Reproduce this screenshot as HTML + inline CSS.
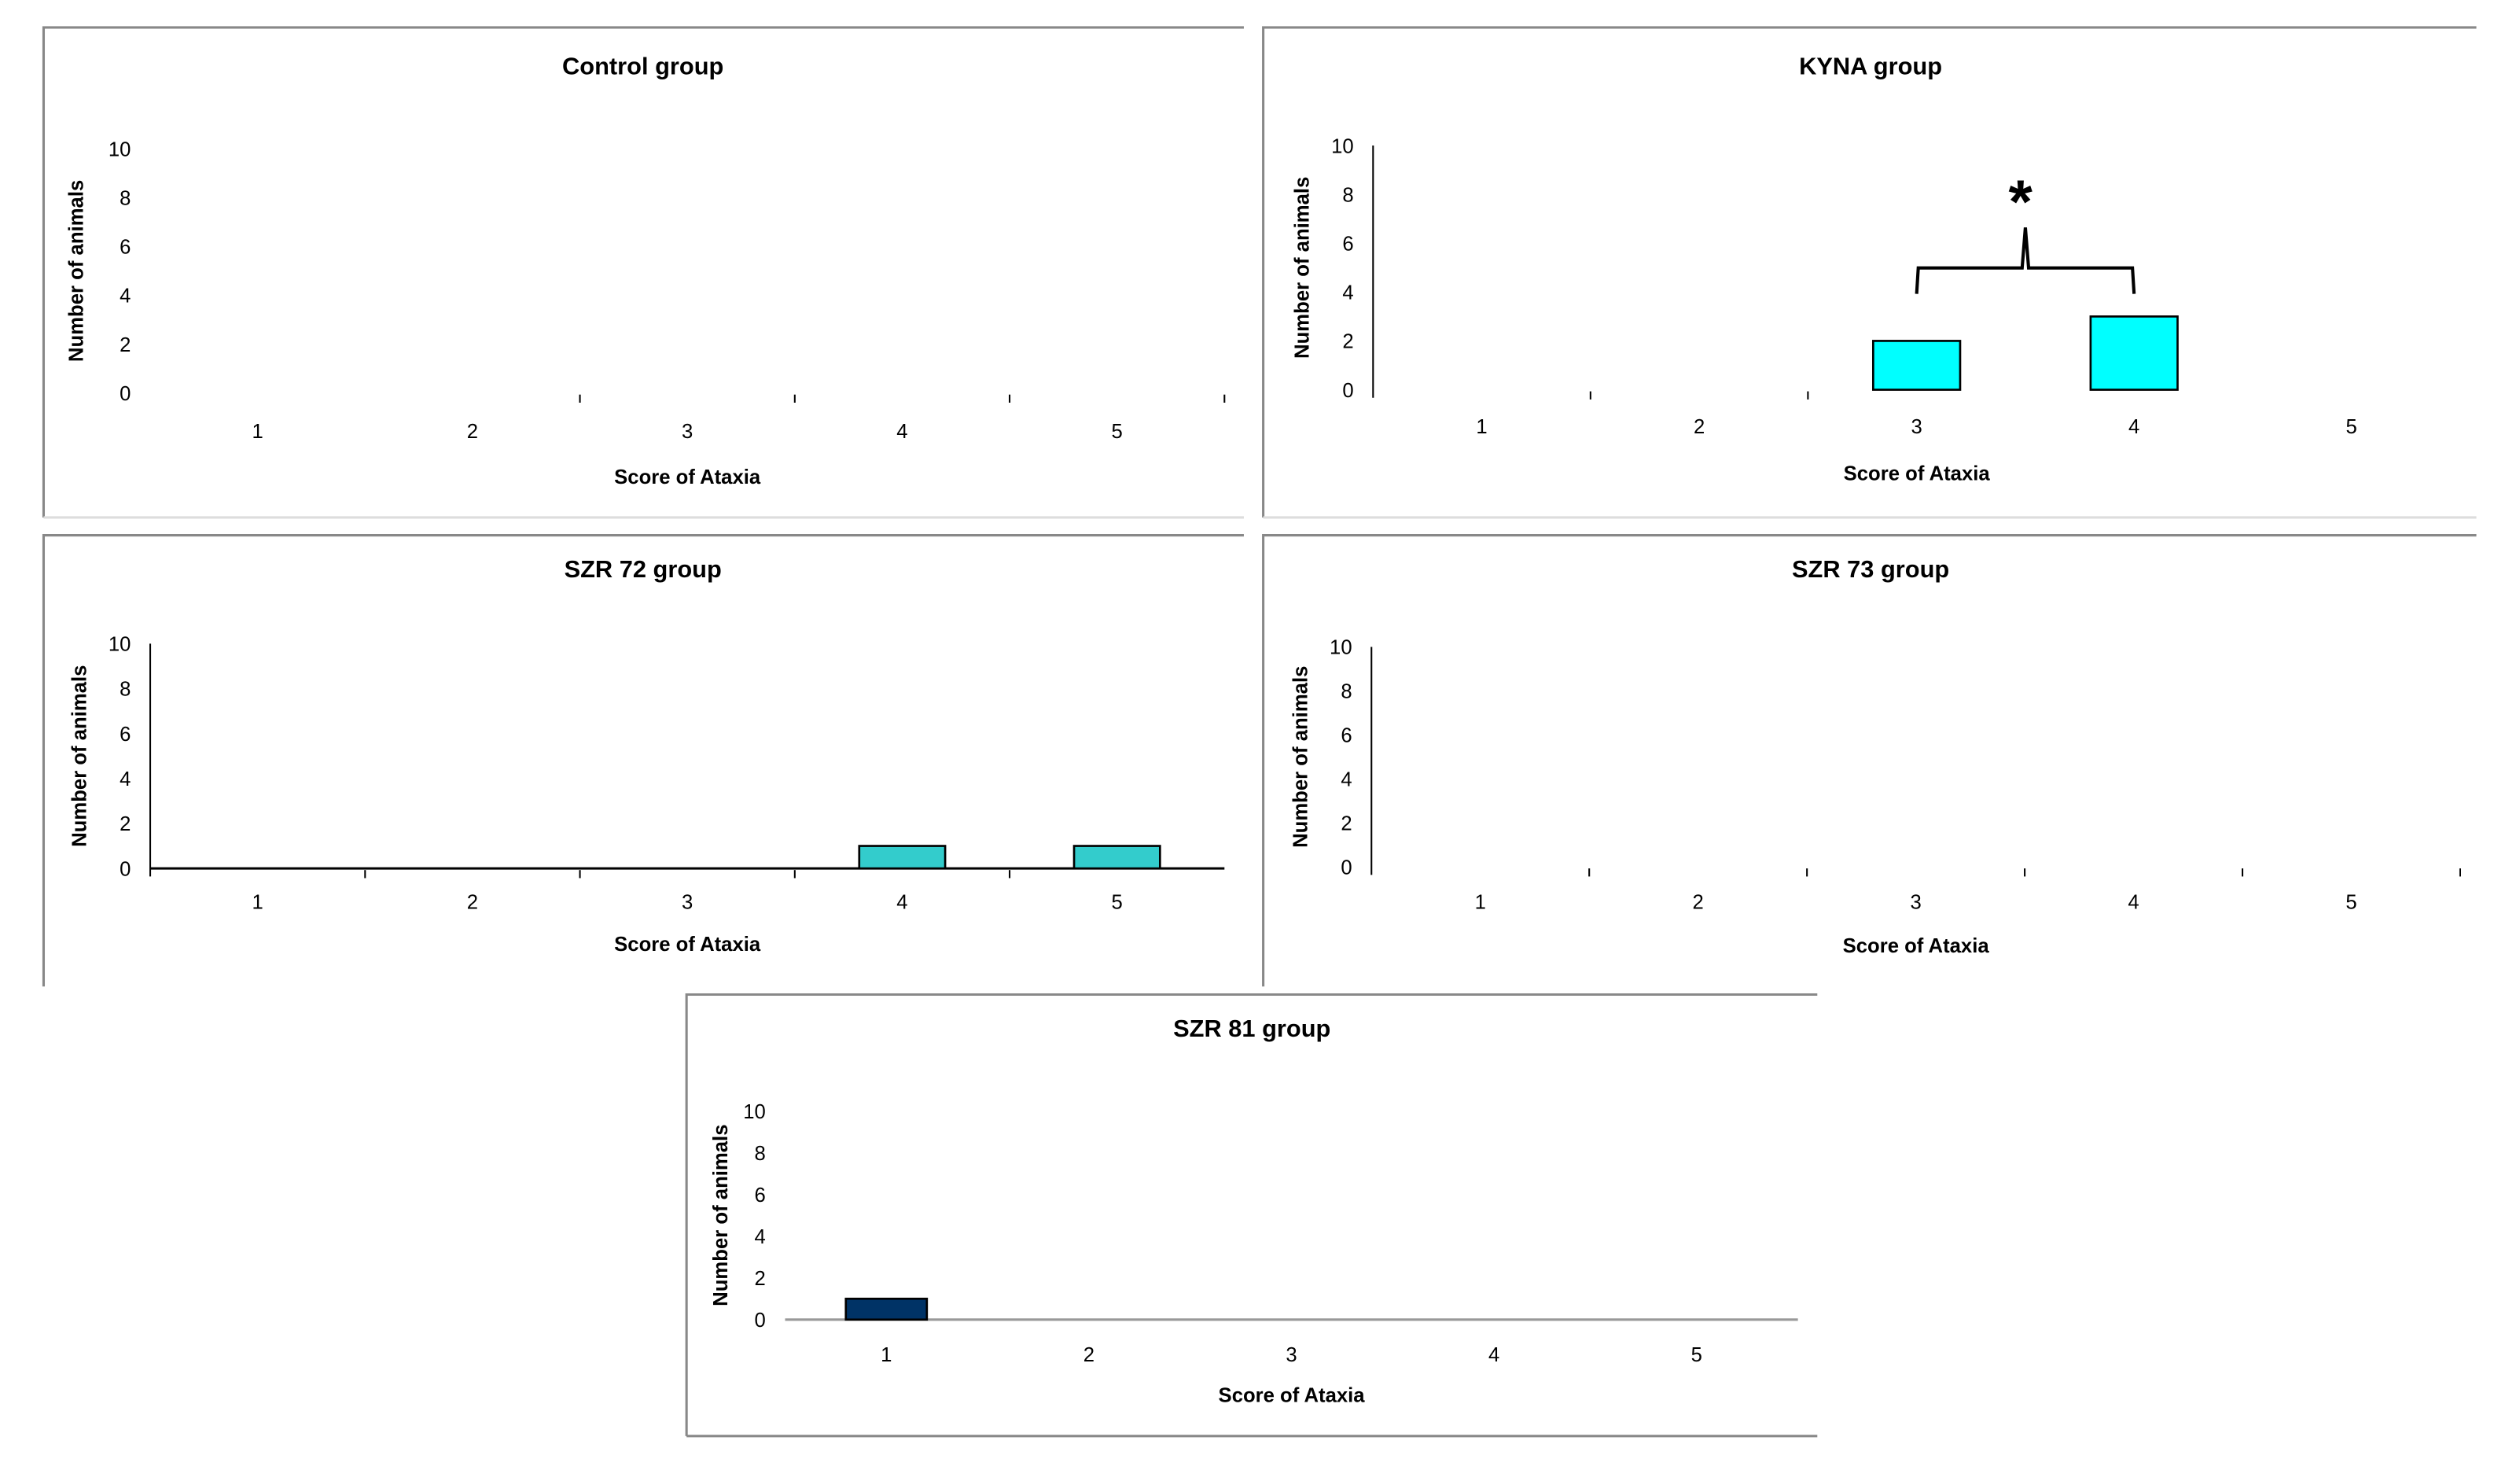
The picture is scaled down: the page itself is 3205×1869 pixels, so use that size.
<!DOCTYPE html>
<html><head><meta charset="utf-8"><style>
html,body{margin:0;padding:0;background:#fff;}
svg{display:block;}
text{font-family:"Liberation Sans",Arial,sans-serif;fill:#000;}
.t{font-weight:bold;font-size:15px;}
.ax{font-weight:bold;font-size:12.5px;}
.tk{font-size:12.5px;}
</style></head><body>
<svg id="fig" width="3205" height="1869" viewBox="0 0 1560 909" preserveAspectRatio="none" xmlns="http://www.w3.org/2000/svg"></svg>
<script>
const categories = [1, 2, 3, 4, 5];
const yTicks = [0, 2, 4, 6, 8, 10];
const controlValues = [0, 0, 0, 0, 0];
const kynaValues = [0, 0, 2, 3, 0];
const szr72Values = [0, 0, 0, 1, 1];
const szr73Values = [0, 0, 0, 0, 0];
const szr81Values = [1, 0, 0, 0, 0];
const titles = ["Control group", "KYNA group", "SZR 72 group", "SZR 73 group", "SZR 81 group"];

const NS = "http://www.w3.org/2000/svg";
const svg = document.getElementById('fig');
function mk(tag, attrs, parent, txt){
  const e = document.createElementNS(NS, tag);
  for (const k in attrs) e.setAttribute(k, attrs[k]);
  if (txt !== undefined) e.textContent = txt;
  (parent || svg).appendChild(e);
  return e;
}
const panels = [
  {id:'control', vals:controlValues, box:[27,17,770,320], ax:93, x0:93, x1:758, y0:243, y10:92, xl:266, xt:294, yl:48, ty:41, tx:398, color:'#33cccc', axis:false, base:false, tickIdx:[2,3,4,5], bottom:true},
  {id:'kyna', vals:kynaValues, box:[782,17,1533,320], ax:850, x0:850, x1:1523, y0:241, y10:90, xl:263, xt:292, yl:807, ty:41, tx:1158, color:'#00ffff', axis:true, base:false, tickIdx:[1,2], bottom:true},
  {id:'szr72', vals:szr72Values, box:[27,331,770,610], ax:93, x0:93, x1:758, y0:537, y10:398, xl:557, xt:583, yl:50, ty:352, tx:398, color:'#33cccc', axis:true, base:true, tickIdx:[1,2,3,4], bottom:false},
  {id:'szr73', vals:szr73Values, box:[782,331,1533,610], ax:849, x0:849, x1:1523, y0:536, y10:400, xl:557, xt:584, yl:806, ty:352, tx:1158, color:'#33cccc', axis:true, base:false, tickIdx:[1,2,3,4,5], bottom:false},
  {id:'szr81', vals:szr81Values, box:[425,615,1125,888], ax:486, x0:486, x1:1113, y0:816, y10:687, xl:837, xt:862, yl:447, ty:636, tx:775, color:'#003366', axis:false, base:true, baseColor:'#999', tickIdx:[], bottom:true}
];
panels.forEach((p, pi) => {
  const g = mk('g', {});
  
  
  const [L,T,R,B] = p.box;
  const fr = mk('path', {d:`M${R},${T} L${L},${T} L${L},${B}`, fill:'none', stroke:'#888', 'stroke-width':1.5}, g);
  
  
  if (p.bottom) {
    mk('line', {x1:L, y1:B, x2:R, y2:B, stroke: pi===4?'#888':'#ddd', 'stroke-width':1.5}, g);
  }
  const tt = mk('text', {x:p.tx, y:p.ty+5, 'text-anchor':'middle', class:'t'}, g, titles[pi]);
  
  
  const band = (p.x1 - p.x0) / categories.length;
  const xPos = i => p.x0 + band*(i+0.5);
  const yPos = v => p.y0 - (p.y0 - p.y10) * v / 10;
  yTicks.forEach(v => {
    const t = mk('text', {x:p.ax-12, y:yPos(v)+4.5, 'text-anchor':'end', class:'tk'}, g, String(v));
    
    
  });
  if (p.axis) {
    const a = mk('line', {x1:p.ax, y1:p.y10, x2:p.ax, y2:p.y0+5, stroke:'#000', 'stroke-width':1}, g);
    
    
  }
  if (p.base) {
    const b = mk('line', {x1:p.x0, y1:p.y0, x2:p.x1, y2:p.y0, stroke:p.baseColor||'#000', 'stroke-width':1.5}, g);
    
    
  }
  p.tickIdx.forEach(i => {
    const tx = p.x0 + band*i;
    mk('line', {x1:tx, y1:p.y0+1, x2:tx, y2:p.y0+6, stroke:'#000', 'stroke-width':1}, g);
  });
  categories.forEach((c, i) => {
    const t = mk('text', {x:xPos(i), y:p.xl+5, 'text-anchor':'middle', class:'tk'}, g, String(c));
    
    
    const v = p.vals[i];
    if (v > 0) {
      const bw = band*0.4;
      const r = mk('rect', {x:xPos(i)-bw/2, y:yPos(v), width:bw, height:p.y0-yPos(v), fill:p.color, stroke:'#000', 'stroke-width':1.3}, g);
      
      
    }
  });
  const xt = mk('text', {x:xPos(2), y:p.xt+5, 'text-anchor':'middle', class:'ax'}, g, 'Score of Ataxia');
  
  
  const ym = (p.y0 + p.y10)/2;
  const yt = mk('text', {x:p.yl, y:ym, 'text-anchor':'middle', class:'ax', transform:`rotate(-90 ${p.yl} ${ym})`, 'dominant-baseline':'middle'}, g, 'Number of animals');
  
  
  if (p.id === 'kyna') {
    const xa = xPos(2), xb = xPos(3);
    const hy = yPos(p.vals[3]) - 30, ly = hy + 16, mid = (xa+xb)/2;
    const br = mk('path', {d:`M${xa},${ly} L${xa+1},${hy} L${mid-2},${hy} L${mid},${hy-25} L${mid+2},${hy} L${xb-1},${hy} L${xb},${ly}`, fill:'none', stroke:'#000', 'stroke-width':2}, g);
    
    
    const st = mk('text', {x:mid-3, y:hy-28, 'text-anchor':'middle', style:'font-size:38px;font-weight:bold'}, g, '*');
    
    
  }
});
</script>
</body></html>
